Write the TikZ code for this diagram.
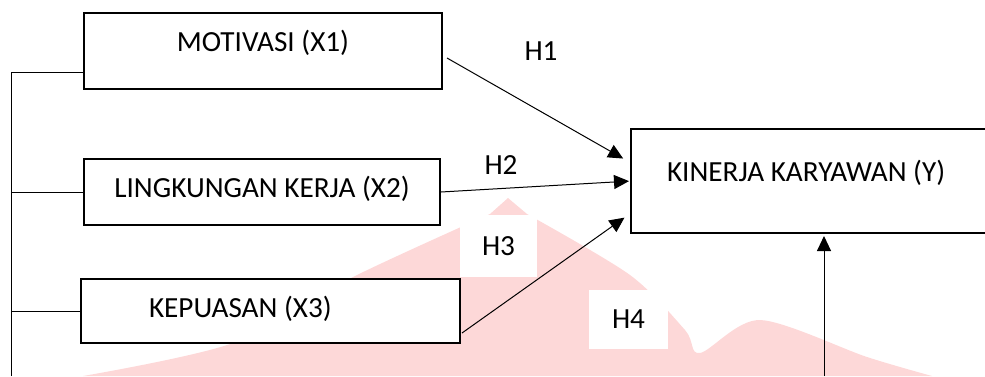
\documentclass[tikz,border=0pt]{standalone}
\usepackage{fontspec}
\setmainfont{Carlito}
\usetikzlibrary{arrows.meta}

\tikzstyle{box} = [rectangle, draw=black, line width=2pt, fill=white, inner sep=0pt]
\tikzstyle{hyp} = [rectangle, inner sep=0pt]
\tikzstyle{arr} = [-{Triangle[length=15pt,width=14pt]}, line width=1pt]
\definecolor{wmark}{RGB}{253,216,216}

\begin{document}
\begin{tikzpicture}[x=1pt,y=-1pt,font=\fontsize{29.2}{34}\selectfont]
\useasboundingbox (0,0) rectangle (985,376);
\clip (0,0) rectangle (985,376);

% watermark in the background
\fill[wmark] plot[smooth] coordinates {(83,376) (233,343) (353,277) (490,214)} -- (508,198)
    -- plot[smooth] coordinates {(527,214) (630,275) (685,330) (700,353) (760,320) (867,357) (932,376)} -- cycle;

\node[box, minimum width=358pt, minimum height=76pt, text height=10pt, text depth=10pt] (Motivasi) at (263,51) {MOTIVASI (X1)};
\node[box, minimum width=356pt, minimum height=66pt, text height=15pt, text depth=5pt] (Lingkungan) at (262,192) {LINGKUNGAN KERJA (X2)};
\node[box, text width=243pt, inner xsep=68pt, align=flush left, minimum height=64pt, text height=14pt, text depth=2pt] (Kepuasan) at (270.5,311) {KEPUASAN (X3)};
% right box runs off the page: only three sides drawn
\node[box, draw=none, outer sep=0pt, text width=397pt, inner xsep=36pt, align=flush left, minimum height=104pt, text height=10pt, text depth=10pt] (Kinerja) at (865.5,181) {KINERJA KARYAWAN (Y)};
\draw[line width=2pt] (Kinerja.north east) -- (Kinerja.north west) -- (Kinerja.south west) -- (Kinerja.south east);

\node[hyp] (H1) at (541,51) {H1};
\node[hyp] (H2) at (501,165) {H2};
\node[hyp, fill=white, minimum width=77pt, minimum height=62pt] (H3) at (498.5,246) {H3};
\node[hyp, fill=white, minimum width=79pt, minimum height=59pt] (H4) at (628.5,319.5) {H4};

% left bracket
\coordinate (busTop) at (11,72);
\coordinate (busEnd) at (11,376);
\draw[line width=1pt] (busEnd) -- (busTop) -- (busTop -| Motivasi.west);
\draw[line width=1pt] (Lingkungan.west) -- (Lingkungan.west -| busTop);
\draw[line width=1pt] (Kepuasan.west) -- (Kepuasan.west -| busTop);

% hypotheses
\draw[arr, shorten >=9pt] ([shift={(4,7)}]Motivasi.east) -- ([shift={(0,-18)}]Kinerja.west);
\draw[arr, shorten >=2pt] (Lingkungan.east) -- (Kinerja.west);
\draw[arr, shorten >=8pt] ([shift={(1,-11)}]Kepuasan.south east) -- ([shift={(0,32)}]Kinerja.west);
\coordinate (h4Start) at (824,376);
\draw[arr, shorten >=3pt] (h4Start) -- (h4Start |- Kinerja.south);

\end{tikzpicture}
\end{document}
